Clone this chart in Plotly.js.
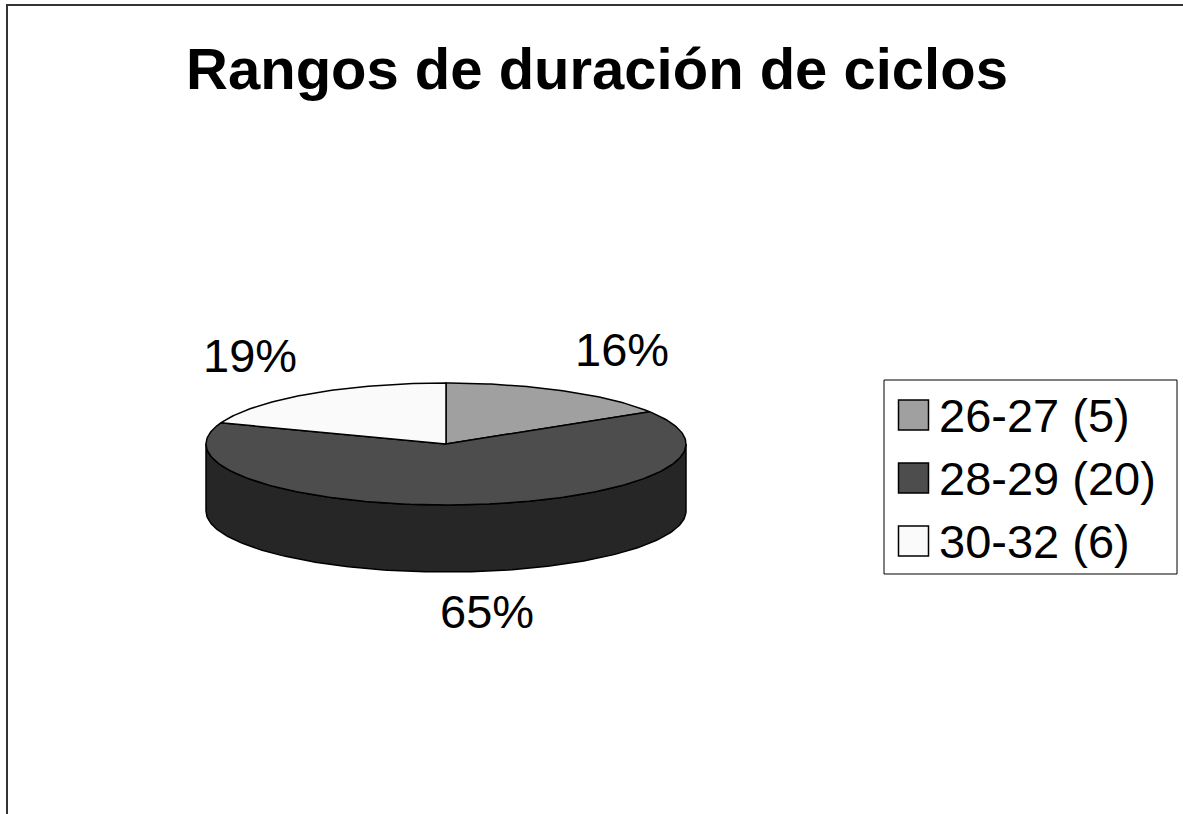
<!DOCTYPE html>
<html>
<head>
<meta charset="utf-8">
<script src="https://cdn.plot.ly/plotly-3.0.1.min.js"></script>
<style>
  html, body { margin: 0; padding: 0; background: #ffffff; }
  #chart { width: 1183px; height: 814px; }
</style>
</head>
<body>
<div id="chart"></div>
<script>
// ---- data ----
const chartTitle = "Rangos de duración de ciclos";
const categories = ["26-27 (5)", "28-29 (20)", "30-32 (6)"];
const counts = [5, 20, 6];
const topColors = ["#a0a0a0", "#4d4d4d", "#fafafa"];
const sideColors = ["#6e6e6e", "#262626", "#bcbcbc"];

// ---- geometry (pixel space of the figure) ----
const W = 1183, H = 814;
const cx = 446, cy = 444, rx = 240, ry = 61, depth = 67;
const FONT = "Liberation Sans, Arial, sans-serif";

const total = counts.reduce((a, b) => a + b, 0);
const deg = Math.PI / 180;
function pt(theta, dy) {
  return [cx + rx * Math.sin(theta * deg), cy - ry * Math.cos(theta * deg) + (dy || 0)];
}
function arc(a, b, dy) {
  const n = Math.max(2, Math.ceil(Math.abs(b - a) / 1));
  const out = [];
  for (let i = 0; i <= n; i++) out.push(pt(a + (b - a) * i / n, dy));
  return out;
}

// slice angle ranges (clockwise from 12 o'clock)
const slices = [];
let acc = 0;
counts.forEach((v, i) => {
  const a = acc / total * 360;
  acc += v;
  const b = acc / total * 360;
  slices.push({ i, a, b, v });
});

const traces = [];
// side walls (front half: 90..270)
slices.forEach(s => {
  const a = Math.max(s.a, 90), b = Math.min(s.b, 270);
  if (b <= a) return;
  const topArc = arc(a, b, 0);
  const botArc = arc(b, a, depth);
  const pts = topArc.concat(botArc);
  pts.push(topArc[0]);
  traces.push({
    type: "scatter", mode: "lines", fill: "toself",
    x: pts.map(p => p[0]), y: pts.map(p => p[1]),
    fillcolor: sideColors[s.i],
    line: { color: "#000000", width: 1.5 },
    hoverinfo: "skip", showlegend: false
  });
});
// top faces
slices.forEach(s => {
  const pts = [[cx, cy]].concat(arc(s.a, s.b, 0));
  pts.push([cx, cy]);
  traces.push({
    type: "scatter", mode: "lines", fill: "toself",
    x: pts.map(p => p[0]), y: pts.map(p => p[1]),
    fillcolor: topColors[s.i],
    line: { color: "#000000", width: 1.5 },
    name: categories[s.i],
    hoverinfo: "skip", showlegend: false
  });
});

// legend swatches (drawn as square markers)
const legX = 913.5, legY0 = 415, legDy = 63;
traces.push({
  type: "scatter", mode: "markers",
  x: categories.map(() => legX),
  y: categories.map((c, i) => legY0 + i * legDy),
  marker: { symbol: "square", size: 30, color: topColors, line: { color: "#000000", width: 1.5 } },
  hoverinfo: "skip", showlegend: false
});

const annotations = [];
// percentage labels
const lrx = 352, lry = 108, lxOff = 5;
slices.forEach(s => {
  const mid = (s.a + s.b) / 2;
  const c = Math.cos(mid * deg);
  const x = cx + lxOff + lrx * Math.sin(mid * deg);
  const y = cy - lry * c + (c < 0 ? depth * 0.9 : 0);
  annotations.push({
    x: x, y: y, xref: "x", yref: "y",
    text: Math.round(s.v / total * 100) + "%",
    showarrow: false, xanchor: "center", yanchor: "middle",
    font: { family: FONT, size: 47, color: "#000000" }
  });
});
// legend text
categories.forEach((c, i) => {
  annotations.push({
    x: 937, y: legY0 + i * legDy, xref: "x", yref: "y",
    text: c, showarrow: false, xanchor: "left", yanchor: "middle",
    font: { family: FONT, size: 47, color: "#000000" }
  });
});

const layout = {
  width: W, height: H,
  margin: { l: 0, r: 0, t: 0, b: 0, pad: 0 },
  paper_bgcolor: "#ffffff", plot_bgcolor: "#ffffff",
  title: {
    text: "<b>" + chartTitle + "</b>",
    x: 597 / W, xanchor: "center", xref: "paper",
    y: 1 - 69 / H, yanchor: "middle", yref: "container",
    font: { family: FONT, size: 58, color: "#000000" }
  },
  xaxis: { range: [0, W], visible: false, fixedrange: true },
  yaxis: { range: [H, 0], visible: false, fixedrange: true },
  showlegend: false,
  shapes: [
    { type: "path", xref: "paper", yref: "paper",
      path: "M " + (7 / W) + " -0.05 L " + (7 / W) + " " + (1 - 5 / H) + " L 1.05 " + (1 - 5 / H),
      line: { color: "#333333", width: 2 }, layer: "below" },
    { type: "rect", xref: "x", yref: "y", x0: 884, x1: 1177, y0: 380, y1: 574,
      line: { color: "#000000", width: 1 }, fillcolor: "rgba(0,0,0,0)", layer: "below" }
  ],
  annotations: annotations
};

Plotly.newPlot("chart", traces, layout, { displayModeBar: false, staticPlot: true });
</script>
</body>
</html>
